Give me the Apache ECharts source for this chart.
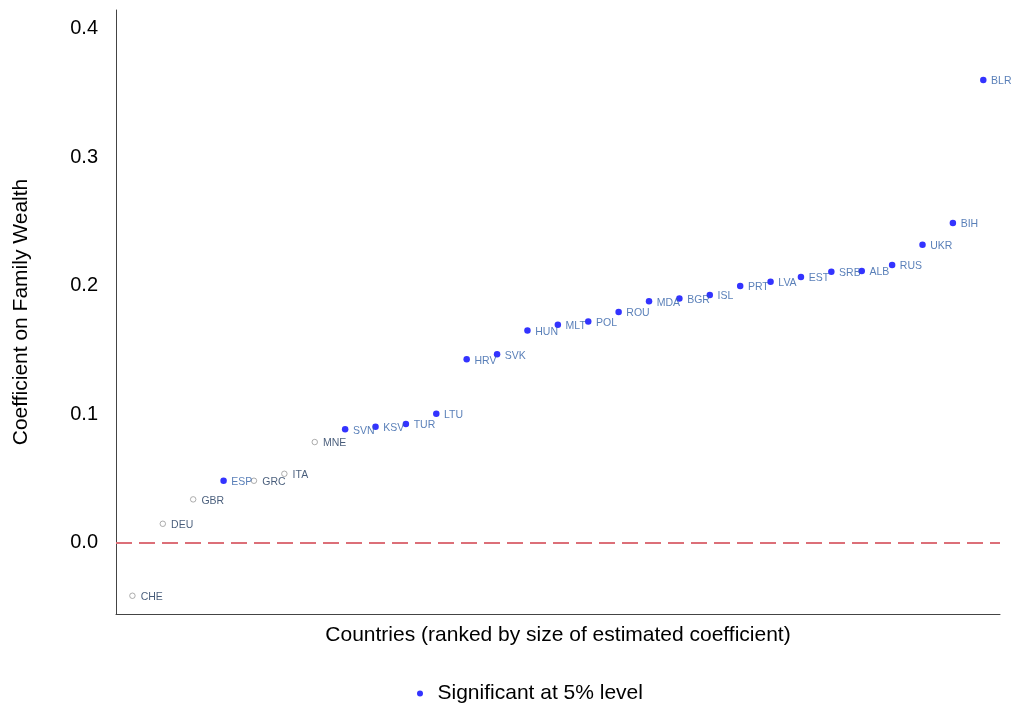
<!DOCTYPE html>
<html>
<head>
<meta charset="utf-8">
<script src="https://cdn.jsdelivr.net/npm/echarts@6/dist/echarts.min.js"></script>
<style>html,body{margin:0;padding:0;background:#fff;}#c{width:1016px;height:708px;}</style>
</head>
<body>
<div id="c"></div>
<script>
const countries = ['CHE','DEU','GBR','ESP','GRC','ITA','MNE','SVN','KSV','TUR','LTU','HRV','SVK','HUN','MLT','POL','ROU','MDA','BGR','ISL','PRT','LVA','EST','SRB','ALB','RUS','UKR','BIH','BLR'];
const coefficients = [-0.0414,0.0146,0.0336,0.0481,0.0481,0.0535,0.0782,0.0881,0.0901,0.0922,0.1002,0.1426,0.1465,0.1651,0.1695,0.1721,0.1794,0.1877,0.1900,0.1926,0.1996,0.2030,0.2066,0.2107,0.2113,0.2160,0.2318,0.2486,0.3599];
const significant = [0,0,0,1,0,0,0,1,1,1,1,1,1,1,1,1,1,1,1,1,1,1,1,1,1,1,1,1,1];
const yTicks = [0.0,0.1,0.2,0.3,0.4];

const sigData = [], nsData = [];
countries.forEach((c,i)=>{
  const pt = [i+1, coefficients[i], c];
  if (significant[i]) sigData.push(pt); else nsData.push(pt);
});

const font = 'Liberation Sans, Arial, Helvetica, sans-serif';
const chart = echarts.init(document.getElementById('c'), null, {renderer:'canvas'});
chart.setOption({
  animation:false,
  backgroundColor:'#fff',
  textStyle:{fontFamily:font},
  grid:{left:116,right:16,top:10,bottom:94,containLabel:false},
  legend:{
    data:[{name:'Significant at 5% level',icon:'circle'}],
    left:412, top:678,
    itemWidth:25, itemHeight:6,
    textStyle:{fontSize:21,color:'#000',fontFamily:font},
    selectedMode:false
  },
  xAxis:{
    type:'value', min:0.46, max:29.55,
    name:'Countries (ranked by size of estimated coefficient)',
    nameLocation:'middle', nameGap:11,
    nameTextStyle:{fontSize:21,color:'#000',fontFamily:font},
    axisLine:{show:true,onZero:false,lineStyle:{color:'#444',width:1}},
    axisTick:{show:false}, axisLabel:{show:false}, splitLine:{show:false}
  },
  yAxis:{
    type:'value', min:-0.0556, max:0.4144,
    name:'Coefficient on Family Wealth',
    nameLocation:'middle', nameGap:84, nameRotate:90,
    nameTextStyle:{fontSize:21,color:'#000',fontFamily:font},
    axisLine:{show:true,onZero:false,lineStyle:{color:'#444',width:1}},
    axisTick:{show:false},
    axisLabel:{show:true,customValues:yTicks,fontSize:20,color:'#000',margin:18,fontFamily:font,
      formatter:v=>Number(v).toFixed(1)},
    splitLine:{show:false}
  },
  series:[
    {
      name:'Not significant', type:'scatter', data:nsData,
      symbol:'circle', symbolSize:5.5,
      itemStyle:{color:'#fff',borderColor:'#999',borderWidth:1},
      label:{show:true,position:'right',distance:5,offset:[0,1.5],formatter:p=>p.data[2],
        fontSize:10.5,color:'#183257',fontFamily:font},
      markLine:{
        silent:true, symbol:['none','none'], label:{show:false},
        lineStyle:{color:'#dc6f78',type:[16,7],width:1.8},
        data:[{yAxis:0}]
      },
      z:2
    },
    {
      name:'Significant at 5% level', type:'scatter', data:sigData,
      symbol:'circle', symbolSize:6.5,
      itemStyle:{color:'#0000ff'},
      label:{show:true,position:'right',distance:4.5,offset:[0,1.5],formatter:p=>p.data[2],
        fontSize:10.5,color:'#2f5fa6',fontFamily:font},
      z:3
    }
  ]
});
</script>
</body>
</html>
